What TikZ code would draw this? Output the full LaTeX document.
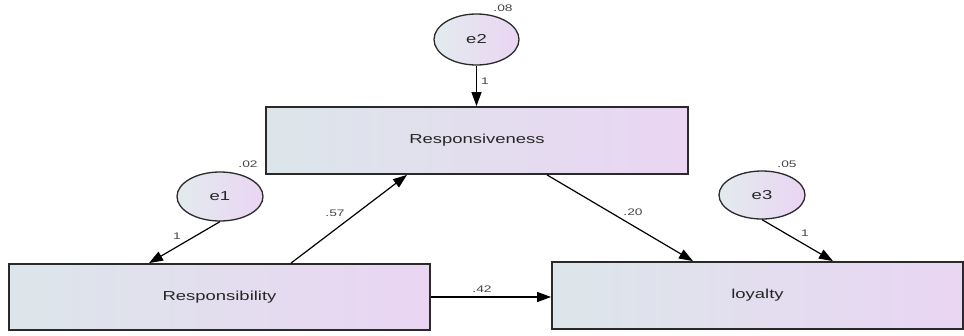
\documentclass[tikz,border=0pt]{standalone}
\usepackage{fontspec}
\usepackage{graphicx}
\setmainfont{Liberation Sans}
\usetikzlibrary{arrows.meta,shapes.geometric}
\definecolor{gl}{HTML}{DCE6EA}
\definecolor{gr}{HTML}{EAD5F3}
\definecolor{bd}{HTML}{2A2A2A}
\definecolor{tx}{HTML}{262626}
\definecolor{sx}{HTML}{454545}
\newcommand{\bigtxt}[1]{\fontsize{13}{15}\selectfont\scalebox{1.42}[1]{#1}}
\newcommand{\smtxt}[1]{\fontsize{9.5}{11}\selectfont\scalebox{1.45}[1]{#1}}
\tikzset{
  obsbox/.style={draw=bd, line width=1.8pt, rectangle, left color=gl, right color=gr, text=tx, inner sep=0pt},
  errell/.style={draw=bd, line width=1.3pt, ellipse, inner sep=0pt, left color=gl!80!white, right color=gr, text=tx},
  path/.style={draw=black, line width=1.2pt, -{Triangle[length=14pt,width=10pt]}},
  lbl/.style={text=sx, inner sep=0pt}
}
\begin{document}
\begin{tikzpicture}[x=1pt,y=-1pt]
\useasboundingbox (0,0) rectangle (964,335);
% boxes
\node[obsbox, minimum width=422pt, minimum height=67pt] (rsv) at (477,140.5) {\bigtxt{Responsiveness}};
\node[obsbox, minimum width=421pt, minimum height=66pt] (rsb) at (219.5,297) {\bigtxt{Responsibility}};
\node[obsbox, minimum width=411pt, minimum height=67pt] (loy) at (757.5,295.5) {\bigtxt{loyalty}};
% error ellipses
\node[errell, minimum width=85pt, minimum height=51pt] (e2) at (476.5,39.5) {\bigtxt{e2}};
\node[errell, minimum width=86pt, minimum height=49pt] (e1) at (220,196.5) {\bigtxt{e1}};
\node[errell, minimum width=86pt, minimum height=48pt] (e3) at (762,195) {\bigtxt{e3}};
% paths
\draw[path] (e2.south) -- (rsv.north -| e2.south);
\draw[path] (e1.south) -- ([xshift=-70.5pt]rsb.north);
\draw[path] (e3.south) -- ([xshift=75.5pt]loy.north);
\draw[path] ([xshift=71.5pt]rsb.north) -- ([xshift=-70pt]rsv.south);
\draw[path] ([xshift=70pt]rsv.south) -- ([xshift=-64.5pt]loy.north);
\draw[path] (rsb.east) -- (loy.west |- rsb.east);
% labels
\node[lbl] (v08) at (503,8) {\smtxt{.08}};
\node[lbl] (v02) at (248,164) {\smtxt{.02}};
\node[lbl] (v05) at (787,164) {\smtxt{.05}};
\node[lbl] (w2) at (485,81) {\smtxt{1}};
\node[lbl] (w1) at (177,236) {\smtxt{1}};
\node[lbl] (w3) at (805,233) {\smtxt{1}};
\node[lbl] (b57) at (335,213) {\smtxt{.57}};
\node[lbl] (b20) at (633,212) {\smtxt{.20}};
\node[lbl] (b42) at (482,289) {\smtxt{.42}};
\end{tikzpicture}
\end{document}
